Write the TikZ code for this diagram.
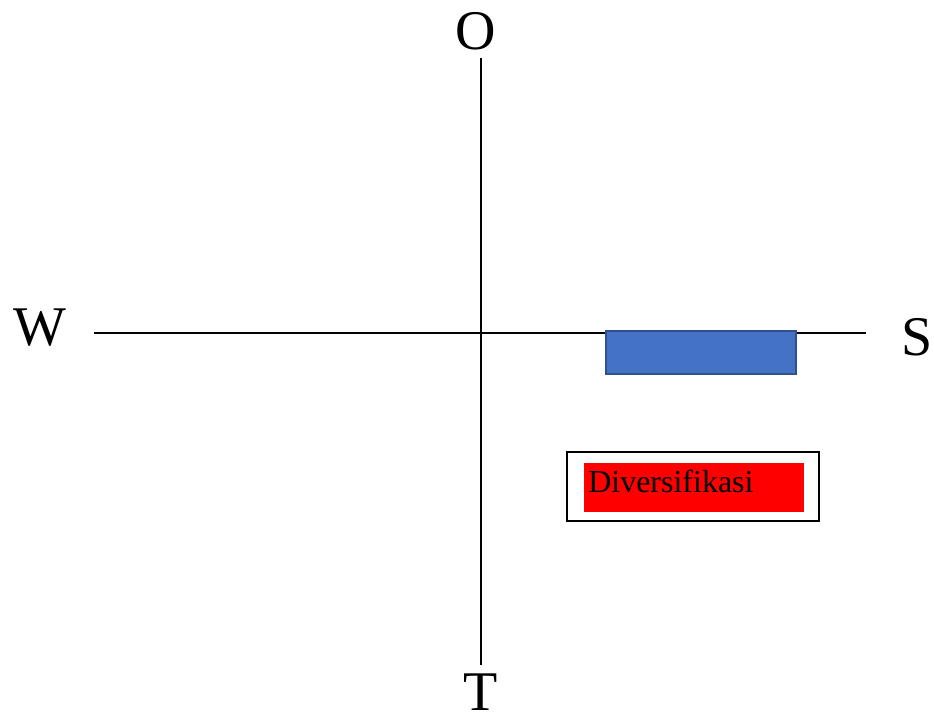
\documentclass[tikz,border=0pt]{standalone}
\usepackage{fontspec}
\setmainfont{Liberation Serif}
\usetikzlibrary{positioning}
\tikzset{
  axislabel/.style={font=\fontsize{42}{42}\selectfont, inner sep=0pt},
  axisline/.style={line width=1.5pt},
}
\definecolor{barblue}{HTML}{4472C4}
\definecolor{barborder}{HTML}{2F528F}
\begin{document}
\begin{tikzpicture}[x=0.75pt,y=-0.75pt]
  \useasboundingbox (0,0) rectangle (934,717);
  % axis end points
  \coordinate (top) at (481,58);
  \coordinate (bottom) at (481,665);
  \coordinate (left) at (94,333);
  \coordinate (right) at (866,333);
  % axis labels
  \node[axislabel] (O) at (476,31) {O};
  \node[axislabel] (T) at (481,692) {T};
  \node[axislabel] (W) at (40,328) {W};
  \node[axislabel] (S) at (917,337) {S};
  % axes
  \draw[axisline] (top) -- (bottom);
  \draw[axisline] (left) -- (right);
  % blue bar on the right axis
  \node[draw=barborder, line width=1.5pt, fill=barblue, minimum width=142.5pt,
        minimum height=32.25pt, inner sep=0pt] (bar) at (701,352) {};
  % boxed label below the bar
  \node[draw, line width=1pt, minimum width=189pt, minimum height=51.75pt,
        inner sep=0pt] (frame) at (693,486.5) {};
  \node[fill=red, minimum width=165pt, minimum height=36.75pt,
        inner sep=0pt] (div) at (694,487.5) {};
  \node[anchor=base west, inner sep=0pt, font=\fontsize{24}{24}\selectfont]
        (divtext) at (588,492) {Diversifikasi};
\end{tikzpicture}
\end{document}
